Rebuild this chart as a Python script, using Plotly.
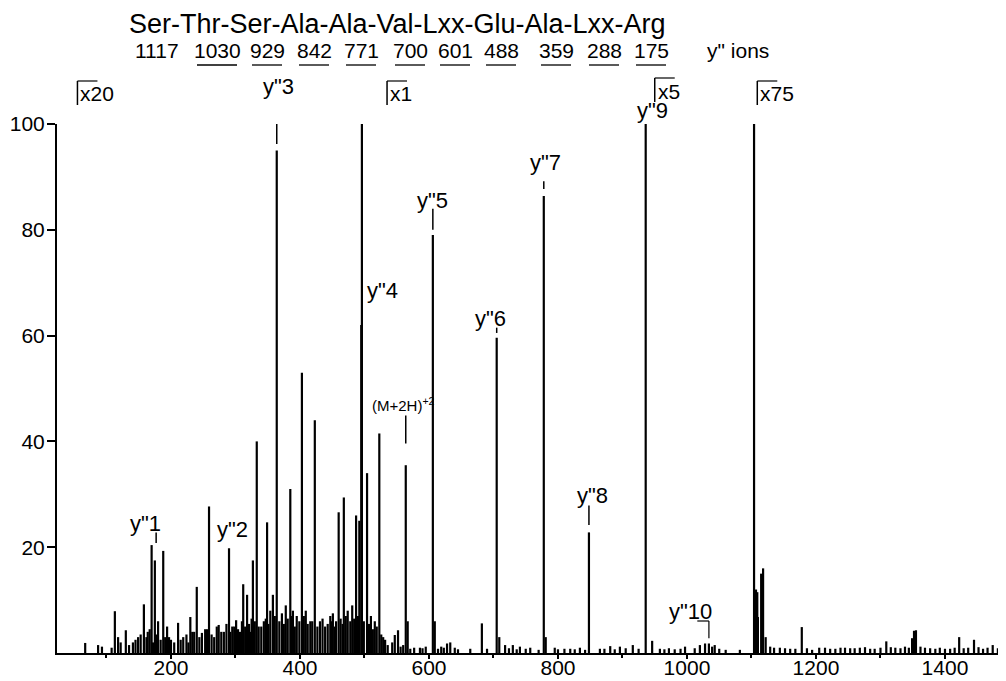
import plotly.graph_objects as go

# ---------------- data (m/z, relative intensity as displayed) ----------------
mz = [67, 87, 93, 113, 118, 130, 141, 149, 158, 164, 170, 175, 180, 188, 194, 200,
      211, 219, 230, 236, 240, 248, 253, 259, 267, 274, 282, 290, 295, 301, 307, 312,
      318, 323, 327, 333, 340, 344, 349, 354, 358, 364, 372, 378, 385, 389, 395, 403,
      409, 416, 423, 431, 439, 447, 451, 456, 460, 468, 474, 481, 487, 492, 495, 496,
      504, 510, 516, 523, 529, 536, 543, 547, 552, 560, 564, 567, 577, 586, 595, 606,
      609, 619, 628, 633, 640, 664, 682, 705, 709, 718, 730, 741, 757, 778, 781, 795,
      819, 834, 848, 865, 881, 896, 916, 936, 946, 958, 981, 997, 1020, 1028, 1034, 1043,
      1082, 1104, 1107, 1109, 1110, 1115, 1118, 1122, 1129, 1144, 1160, 1178, 1194, 1214,
      1230, 1245, 1260, 1276, 1291, 1309, 1323, 1338, 1349, 1352, 1355, 1369, 1385, 1400,
      1422, 1436, 1445, 1459, 1474]
intensity = [1.9, 1.5, 1.2, 7.9, 3.0, 4.3, 2.0, 3.0, 9.2, 4.0, 20.4, 17.5, 6.0, 19.3, 5.0, 2.5,
             5.7, 3.0, 6.8, 4.0, 12.5, 3.8, 4.5, 27.7, 3.0, 5.3, 4.0, 19.8, 5.0, 6.2, 4.0, 13.0,
             11.0, 4.0, 17.5, 40.0, 5.0, 6.0, 24.7, 8.0, 11.0, 95.0, 7.5, 9.0, 31.0, 8.0, 7.0, 53.0,
             8.0, 6.0, 44.0, 6.0, 5.0, 7.0, 7.5, 6.0, 26.6, 29.4, 8.0, 9.0, 26.0, 25.0, 62.0, 100.0,
             34.0, 7.0, 6.0, 41.5, 3.0, 1.5, 2.0, 3.4, 4.3, 1.5, 35.5, 6.0, 1.0, 1.0, 1.2, 79.0,
             6.0, 1.2, 1.8, 2.0, 1.0, 0.8, 5.6, 59.6, 3.0, 1.5, 1.5, 1.2, 1.0, 86.4, 3.0, 1.0,
             0.8, 1.0, 22.8, 0.8, 1.3, 1.2, 1.5, 100.0, 2.3, 0.8, 0.7, 1.2, 1.5, 1.8, 1.8, 1.5,
             0.6, 100.0, 12.0, 11.5, 6.8, 15.0, 16.0, 3.0, 1.2, 1.0, 0.8, 4.9, 0.6, 1.0,
             0.8, 1.0, 0.9, 1.1, 0.8, 2.2, 1.0, 1.2, 2.8, 4.2, 4.3, 1.0, 0.8, 0.8,
             3.0, 1.0, 2.5, 0.8, 1.5]

# small "grass" peaks filling the dense low-mass region
minor_mz = [108, 122, 135, 145, 153, 162, 167, 172, 177, 184, 191, 197, 205, 215, 224, 227,
            233, 244, 256, 263, 271, 278, 286, 292, 298, 304, 310, 315, 321, 325, 330, 336,
            347, 351, 361, 368, 375, 381, 387, 392, 399, 406, 412, 419, 427, 435, 443, 449,
            454, 463, 466, 471, 478, 484, 490, 499, 507, 513, 519, 526, 532, 556, 571, 590,
            614, 623, 645, 690, 724, 736, 750, 770, 800, 810, 826, 842, 872, 888, 905, 925,
            965, 972, 990, 1012, 1039, 1050, 1060, 1135, 1152, 1168, 1186, 1205, 1222, 1238,
            1253, 1268, 1284, 1300, 1316, 1331, 1344, 1362, 1377, 1392, 1408, 1415, 1429, 1452,
            1466, 1482]
minor_int = [1.0, 2.0, 1.5, 2.5, 3.5, 3.0, 4.5, 2.0, 3.5, 2.5, 3.0, 3.0, 2.0, 2.5, 3.5, 2.0,
             4.0, 3.0, 4.5, 3.5, 5.0, 4.0, 5.5, 4.0, 5.0, 4.5, 6.0, 5.0, 5.5, 6.5, 6.0, 5.0,
             6.5, 5.5, 7.0, 6.0, 5.5, 6.5, 7.0, 5.0, 6.0, 7.0, 5.5, 6.0, 5.0, 6.5, 5.5, 6.0,
             5.0, 6.5, 5.5, 7.0, 6.0, 6.5, 7.0, 6.0, 5.5, 4.5, 5.0, 3.5, 2.5, 1.2, 0.8, 0.9,
             0.8, 1.0, 0.7, 0.8, 0.9, 0.7, 0.8, 0.6, 0.7, 0.8, 0.7, 0.6, 0.8, 0.7, 0.9, 0.8,
             0.7, 0.9, 0.8, 0.9, 1.2, 0.8, 0.6, 1.0, 0.9, 0.8, 0.9, 1.0, 0.8, 1.0,
             0.9, 1.0, 0.8, 1.0, 1.1, 0.9, 1.0, 1.2, 0.9, 1.0, 0.8, 1.0, 0.9, 1.1,
             1.0, 0.9]

x_ticks = [200, 400, 600, 800, 1000, 1200, 1400]
x_minor = [100, 300, 500, 700, 900, 1100, 1300]
y_ticks = [20, 40, 60, 80, 100]

sequence = "Ser-Thr-Ser-Ala-Ala-Val-Lxx-Glu-Ala-Lxx-Arg"
y_ion_masses = ["1117", "1030", "929", "842", "771", "700", "601", "488", "359", "288", "175"]

ion_labels = ['y"1', 'y"2', 'y"3', 'y"4', '(M+2H)<sup>+2</sup>', 'y"5', 'y"6', 'y"7', 'y"8', 'y"9', 'y"10']
ion_label_mz = [161, 296, 366, 528, 560, 606, 695, 780, 854, 946, 1006]
ion_label_y = [24.4, 23.3, 107.0, 68.5, 47.0, 85.5, 63.3, 92.8, 29.7, 102.5, 7.8]
marker_mz = [177, 364, 564, 606, 705, 778, 848]
marker_y0 = [20.8, 96.2, 39.6, 80.0, 60.5, 87.7, 24.2]
marker_y1 = [22.8, 100.0, 44.9, 84.0, 61.5, 89.2, 27.9]

mag_labels = ["x20", "x1", "x5", "x75"]
mag_mz = [55, 535, 950, 1109]

# ---------------- layout geometry ----------------
# The page body has an 8px margin, so the figure is drawn 8px in from the
# window's top-left corner; screen coordinates below are converted accordingly.
OFF = 8
W, H = 998, 673
L, R, T, B = 57 - OFF, 0, 124 - OFF, 28
XR = [23.3, 1494.6]
FONT = "Liberation Sans, Arial, sans-serif"


def pxx(xs_screen):
    return (xs_screen - OFF - L) / (W - L - R)


def pyy(ys_screen):
    return (H - B - (ys_screen - OFF)) / (H - T - B)


def mz2screen(m):
    return OFF + L + (m - XR[0]) / (XR[1] - XR[0]) * (W - L - R)


xs, ys = [], []
for m, h in zip(mz + minor_mz, intensity + minor_int):
    xs += [m, m, None]
    ys += [0, h, None]

fig = go.Figure()
fig.add_trace(go.Scatter(x=xs, y=ys, mode="lines",
                         line=dict(color="black", width=2.2),
                         hoverinfo="skip", showlegend=False))

shapes = []
annotations = []

for m, a, b in zip(marker_mz, marker_y0, marker_y1):
    shapes.append(dict(type="line", xref="x", yref="y", x0=m, x1=m, y0=a, y1=b,
                       line=dict(color="black", width=1.5)))
shapes.append(dict(type="line", xref="x", yref="y", x0=1016, x1=1034, y0=6.05, y1=6.05,
                   line=dict(color="black", width=1.2)))
shapes.append(dict(type="line", xref="x", yref="y", x0=1034, x1=1034, y0=6.05, y1=2.8,
                   line=dict(color="black", width=1.2)))

for t, m, yv in zip(ion_labels, ion_label_mz, ion_label_y):
    small = t.startswith("(")
    annotations.append(dict(text=t, xref="x", yref="paper", x=m, y=yv / 100.0,
                            showarrow=False, xanchor="center", yanchor="middle", borderpad=0,
                            font=dict(family=FONT, size=15 if small else 22, color="black")))

for t, m in zip(mag_labels, mag_mz):
    xp = mz2screen(m)
    top = 81 if t != "x5" else 78
    shapes.append(dict(type="line", xref="paper", yref="paper",
                       x0=pxx(xp), x1=pxx(xp), y0=pyy(top), y1=pyy(top + 24),
                       line=dict(color="black", width=1.5)))
    shapes.append(dict(type="line", xref="paper", yref="paper",
                       x0=pxx(xp), x1=pxx(xp + 20), y0=pyy(top), y1=pyy(top),
                       line=dict(color="black", width=1.2)))
    annotations.append(dict(text=t, xref="paper", yref="paper", x=pxx(xp + 2), y=pyy(top + 13),
                            showarrow=False, xanchor="left", yanchor="middle", borderpad=0,
                            font=dict(family=FONT, size=21, color="black")))

annotations.append(dict(text=sequence, xref="paper", yref="paper", x=pxx(128), y=pyy(24),
                        showarrow=False, xanchor="left", yanchor="middle", borderpad=0,
                        font=dict(family=FONT, size=27, color="black")))
num_centers = [157, 217, 267, 314, 361, 410, 455, 501, 556, 604, 651]
for i, (t, c) in enumerate(zip(y_ion_masses, num_centers)):
    annotations.append(dict(text=t, xref="paper", yref="paper", x=pxx(c), y=pyy(50),
                            showarrow=False, xanchor="center", yanchor="middle", borderpad=0,
                            font=dict(family=FONT, size=21, color="black")))
    if i > 0:
        half = 20 if len(t) == 4 else 15
        shapes.append(dict(type="line", xref="paper", yref="paper",
                           x0=pxx(c - half), x1=pxx(c + half), y0=pyy(65), y1=pyy(65),
                           line=dict(color="black", width=1.3)))
annotations.append(dict(text='y" ions', xref="paper", yref="paper", x=pxx(706), y=pyy(50),
                        showarrow=False, xanchor="left", yanchor="middle", borderpad=0,
                        font=dict(family=FONT, size=21, color="black")))

fig.update_layout(
    width=W, height=H,
    margin=dict(l=L, r=R, t=T, b=B, pad=0),
    paper_bgcolor="white", plot_bgcolor="white",
    showlegend=False,
    shapes=shapes, annotations=annotations,
    xaxis=dict(range=XR, automargin=False, showgrid=False, zeroline=False, showline=True,
               linecolor="black", linewidth=2, ticks="outside", ticklen=4, tickwidth=2,
               tickcolor="black", tickvals=x_ticks, ticklabelstandoff=-9,
               ticktext=[str(v) for v in x_ticks],
               minor=dict(tickvals=x_minor, ticks="outside", ticklen=3, tickwidth=1.5,
                          tickcolor="black", showgrid=False),
               tickfont=dict(family=FONT, size=21, color="black")),
    yaxis=dict(range=[0, 100], automargin=False, showgrid=False, zeroline=False, showline=True,
               linecolor="black", linewidth=2, ticks="outside", ticklen=8, tickwidth=2,
               tickcolor="black", tickvals=y_ticks, ticklabelstandoff=-2,
               ticktext=[str(v) for v in y_ticks],
               tickfont=dict(family=FONT, size=21, color="black")),
)

fig.write_html("out.html")
